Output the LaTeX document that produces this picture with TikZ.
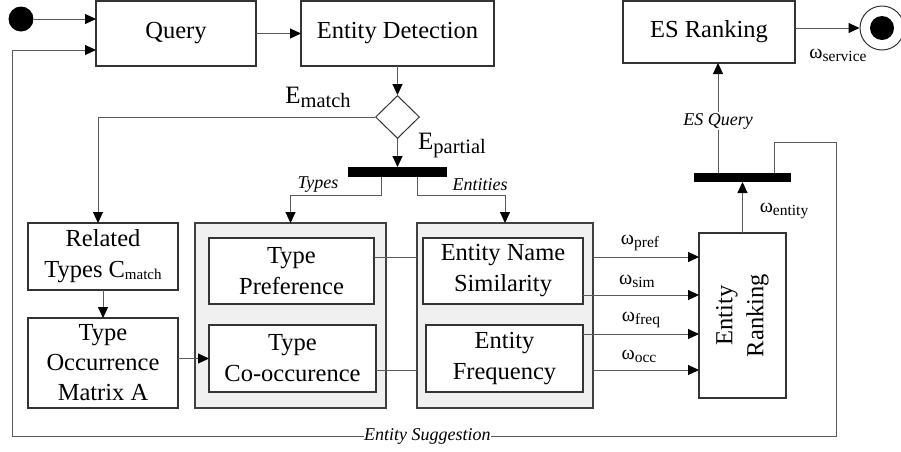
\documentclass[tikz,border=0pt]{standalone}
\usepackage{fontspec}
\setmainfont{Liberation Serif}
\usetikzlibrary{arrows.meta,shapes.geometric}
\newcommand\mainsz{\fontsize{24.5}{31}\selectfont}
\newcommand\smallit{\fontsize{18}{20}\selectfont\itshape}
\newcommand\omlab[1]{{\fontsize{20}{20}\selectfont ω\raisebox{-3pt}{\fontsize{15.5}{15.5}\selectfont #1}}}
\newcommand\bigE[1]{{\fontsize{25}{25}\selectfont E\raisebox{-4pt}{\fontsize{20.5}{20.5}\selectfont #1}}}
\begin{document}
\begin{tikzpicture}[x=1pt,y=-1pt,
 box/.style={draw=black!80,line width=1.1pt,inner sep=0pt,outer sep=0pt,align=center,font=\mainsz,fill=white},
 grp/.style={draw=black!75,line width=1.1pt,fill=black!6,inner sep=0pt,outer sep=0pt},
 bar/.style={fill=black,draw=none,inner sep=0pt,outer sep=0pt},
 conn/.style={draw=black!65,line width=1pt},
 arr/.style={conn,-{Triangle[length=11pt,width=10pt,color=black]}},
 lbl/.style={font=\smallit,inner sep=1pt},
]
\useasboundingbox (0,0) rectangle (901,451);

% nodes
\node[circle,fill=black,inner sep=0pt,minimum size=25] (start) at (21,19) {};
\node[box,minimum width=160,minimum height=65] (query) at (176,33.5) {Query};
\node[box,minimum width=193,minimum height=65] (detect) at (397.5,33.5) {Entity Detection};
\node[diamond,draw=black!80,line width=1pt,inner sep=0pt,minimum width=44,minimum height=43,fill=white] (dia) at (397.5,117) {};
\node[bar,minimum width=99,minimum height=10] (bar1) at (397.5,172) {};
\node[box,minimum width=150,minimum height=67] (related) at (103,256.5) {Related\\Types C\raisebox{-2pt}{\fontsize{15}{15}\selectfont match}};
\node[box,minimum width=150,minimum height=90] (occ) at (103,363) {Type\\[-1pt]Occurrence\\[-1pt]Matrix A};
\node[grp,minimum width=191,minimum height=185] (gray1) at (290.5,315.5) {};
\node[grp,minimum width=176,minimum height=185] (gray2) at (505,315.5) {};
\node[box,minimum width=165,minimum height=66] (pref) at (291.5,271) {Type\\Preference};
\node[box,minimum width=167,minimum height=67] (cooc) at (292.5,358.5) {Type\\Co-occurence};
\node[box,minimum width=160,minimum height=66] (ens) at (503,271) {Entity Name\\Similarity};
\node[box,minimum width=157,minimum height=67] (freq) at (504.5,358.5) {Entity\\Frequency};
\node[box,minimum width=87,minimum height=165] (rank) at (742.5,315.5) {};
\node[rotate=90,align=center,font=\mainsz,inner sep=0pt] (ranktext) at (rank.center) {Entity\\Ranking};
\node[bar,minimum width=97,minimum height=9] (bar2) at (742.5,177.5) {};
\node[box,minimum width=172,minimum height=62] (es) at (709,32) {ES Ranking};
\node[circle,draw=black!80,line width=1pt,fill=white,inner sep=0pt,minimum size=44] (endc) at (882,28) {};
\node[circle,fill=black,inner sep=0pt,minimum size=24] (endin) at (endc.center) {};

% feedback coordinates
\coordinate (fbA) at (774,142);
\coordinate (fbB) at (836,142);
\coordinate (fbC) at (836,436);
\coordinate (fbD) at (12,436);
\coordinate (fbE) at (12,50);
\coordinate (mA) at (98,117);

% connectors
\draw[arr] (start.east) -- (start -| query.west);
\draw[arr] (query.east) -- (detect.west);
\draw[arr] (detect.south) -- (dia.north);
\draw[arr] (dia.south) -- (bar1.north);
\draw[arr] (dia.west) -- (mA) -- ([xshift=-5pt]related.north);
\node[inner sep=0pt] (ematch) at (318,97) {\bigE{match}};
\node[inner sep=0pt] (epartial) at (452,145) {\bigE{partial}};

\draw[arr] ([xshift=-16.5pt]bar1.south) |- ([yshift=28pt]gray1.north) -- (gray1.north);
\draw[arr] ([xshift=19.5pt]bar1.south) |- ([yshift=28pt]gray2.north) -- (gray2.north);
\node[lbl] (ltypes) at (318,185) {Types};
\node[lbl] (lents) at (480,185) {Entities};

\draw[arr] (related.south) -- (occ.north);
\draw[arr] (occ.east |- cooc.west) -- (cooc.west);

\draw[conn] ([yshift=14pt]pref.east) -- ([yshift=58.5pt]gray2.west);
\draw[conn] ([yshift=-11.5pt]cooc.east) -- ([yshift=-54.5pt]gray2.west);

\draw[arr] ([yshift=58.5pt]gray2.east) -- ([yshift=58.5pt]rank.west);
\draw[arr] ([yshift=-24pt]ens.east) -- ([yshift=20.5pt]rank.west);
\draw[arr] ([yshift=24.5pt]freq.east) -- ([yshift=-18.5pt]rank.west);
\draw[arr] ([yshift=-54.5pt]gray2.east) -- ([yshift=-54.5pt]rank.west);
\node (wpref) at (640,243) {\omlab{pref}};
\node (wsim) at (637,281) {\omlab{sim}};
\node (wfreq) at (641,320) {\omlab{freq}};
\node (wocc) at (639,356) {\omlab{occ}};

\draw[arr] (rank.north) -- (bar2.south);
\node (wentity) at (784,211) {\omlab{entity}};

\draw[arr] ([xshift=-24.5pt]bar2.north) -- node[lbl,fill=white,pos=0.47] (lesq) {ES Query} ([xshift=9pt]es.south);

\draw[arr] (es.east |- endc.west) -- (endc.west);
\node (wservice) at (838,55) {\omlab{service}};

\draw[arr] (fbA |- bar2.north) -- (fbA) -- (fbB) -- (fbC) -- node[lbl,fill=white,inner sep=0pt,pos=0.496] (lsugg) {Entity Suggestion} (fbD) -- (fbE) -- (fbE -| query.west);
\end{tikzpicture}
\end{document}
